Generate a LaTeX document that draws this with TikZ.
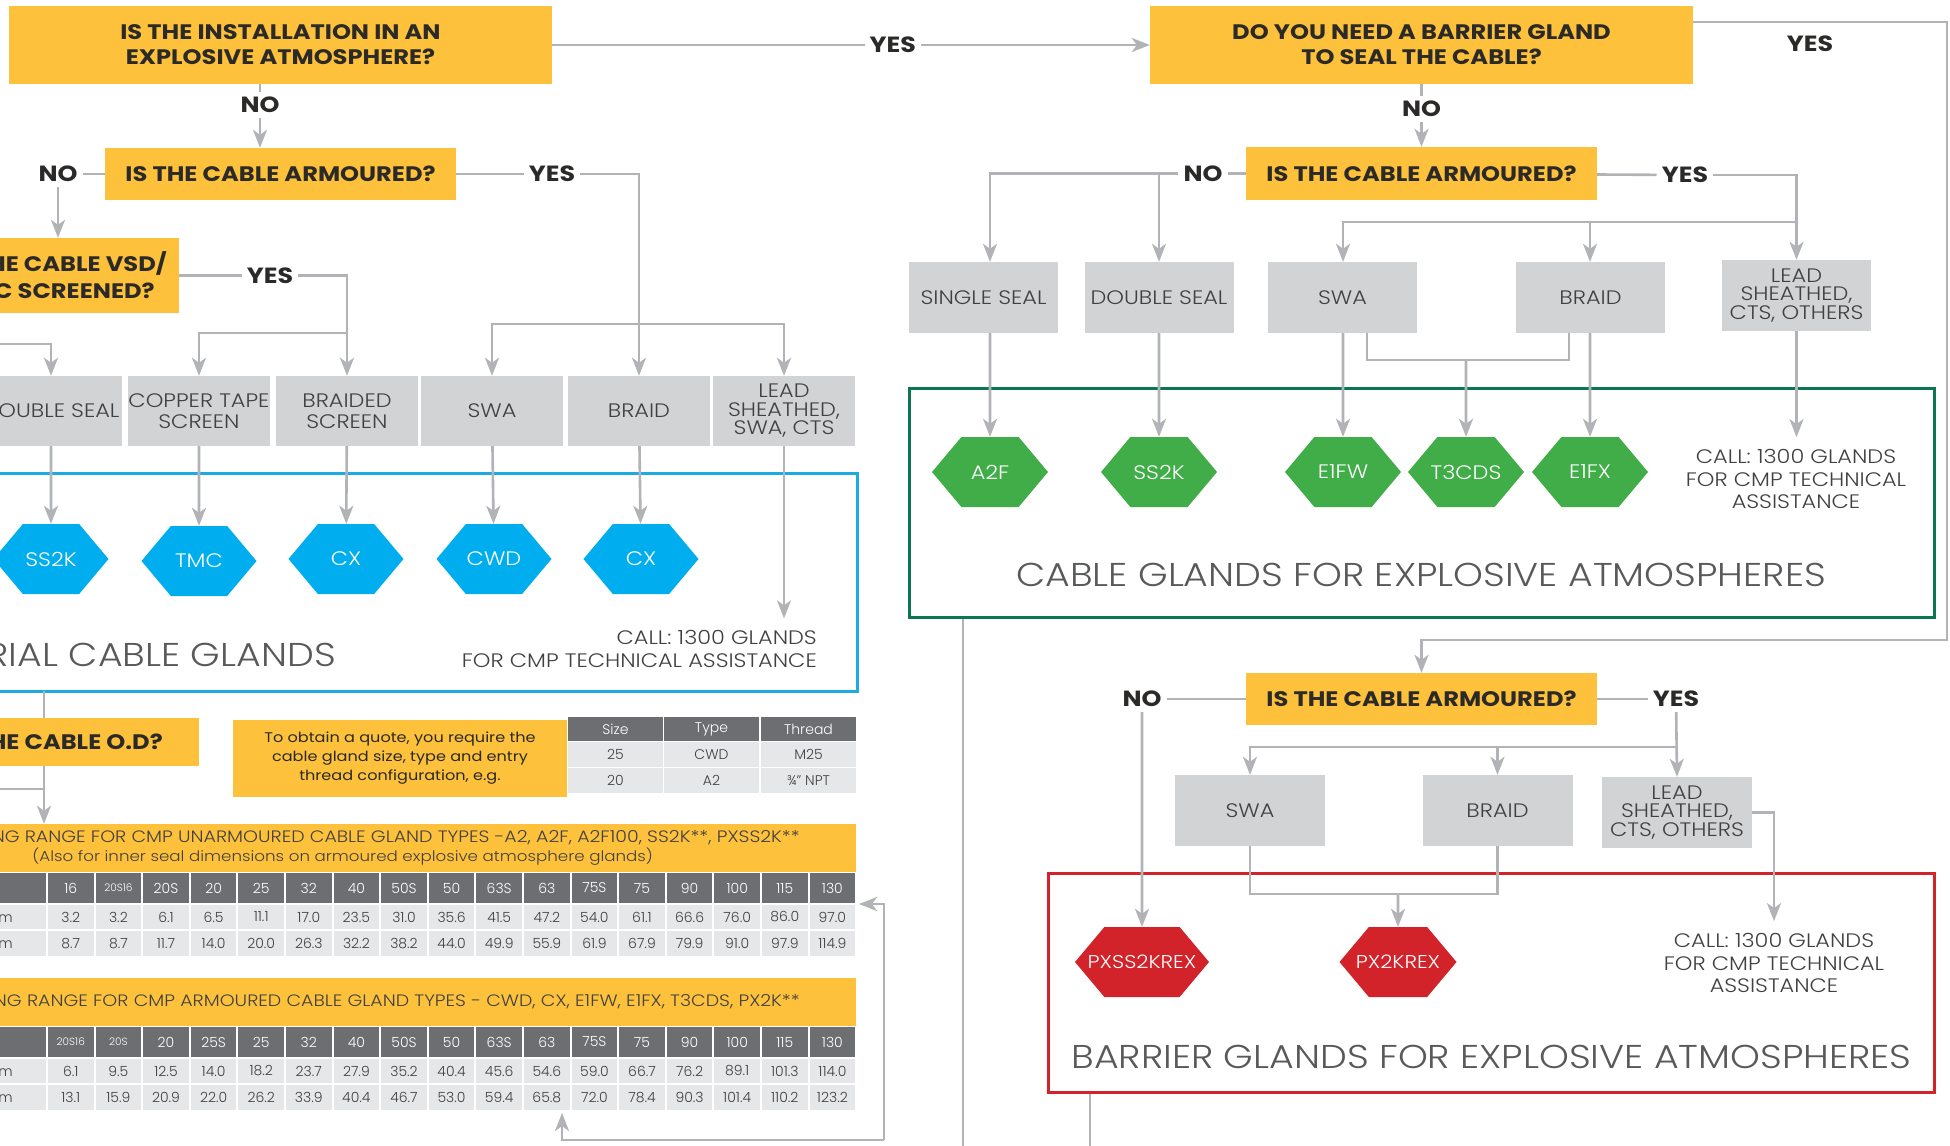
\documentclass[tikz,border=0pt]{standalone}
\usepackage{fontspec}
\setmainfont{Poppins}[FakeStretch=1.15]
\newfontfamily\lightfont{Poppins Light}[FakeStretch=1.15]
\newfontfamily\lightplain{Poppins Light}
\usetikzlibrary{arrows.meta, shapes.symbols}

\definecolor{cmpyellow}{HTML}{FDC13B}
\definecolor{boxgrey}{HTML}{D1D3D4}
\definecolor{linegrey}{HTML}{B1B3B6}
\definecolor{textdark}{HTML}{2B2A29}
\definecolor{textgrey}{HTML}{414042}
\definecolor{titlegrey}{HTML}{58595B}
\definecolor{hexblue}{HTML}{00AEEF}
\definecolor{hexgreen}{HTML}{40AD48}
\definecolor{hexred}{HTML}{D2232A}
\definecolor{frameblue}{HTML}{1DAAE2}
\definecolor{framegreen}{HTML}{0C7651}
\definecolor{headgrey}{HTML}{6D6E71}
\definecolor{cellgrey}{HTML}{E6E7E8}

\newcommand\tinysize[1]{{\fontsize{10.5}{10.5}\selectfont #1}}

\tikzset{
  question/.style={fill=cmpyellow, text=textdark, align=center, inner sep=0pt,
    font=\fontsize{21}{25}\selectfont\bfseries},
  answer/.style={fill=white, text=textdark, inner sep=5pt,
    font=\fontsize{22}{22}\selectfont\bfseries},
  option/.style={fill=boxgrey, text=textgrey, align=center, inner sep=0pt,
    minimum width=142pt, minimum height=70pt,
    font=\lightfont\fontsize{19.5}{21.5}\selectfont},
  gland/.style={shape=signal, signal to=east and west, signal pointer angle=100,
    fill=#1, text=white, inner xsep=-20pt, inner ysep=0pt, minimum width=116pt, minimum height=70pt,
    font=\lightfont\fontsize{19.5}{19.5}\selectfont},
  glandframe/.style={draw=#1, line width=3pt, inner sep=0pt},
  calltext/.style={text=textgrey, align=center, inner ysep=12pt, inner xsep=0pt,
    font=\lightfont\fontsize{19.5}{22.5}\selectfont},
  heading/.style={text=titlegrey, inner sep=0pt,
    font=\lightfont\fontsize{33}{33}\selectfont},
  link/.style={draw=linegrey, line width=2.6pt},
  flow/.style={link, -{Stealth[length=18pt, width=14pt, inset=5pt]}},
  headcell/.style={fill=headgrey, text=white, inner sep=0pt, minimum width=45.6pt,
    minimum height=30pt, font=\lightplain\fontsize{14}{14}\selectfont},
  cell/.style={fill=cellgrey, text=textgrey, inner sep=0pt, minimum width=45.6pt,
    minimum height=24pt, font=\lightplain\fontsize{14}{14}\selectfont},
  band/.style={fill=cmpyellow, text=textgrey, align=center, inner ysep=0pt,
    minimum height=48pt, font=\lightfont\fontsize{16.5}{19}\selectfont},
}

\begin{document}
\begin{tikzpicture}[x=1pt, y=-1pt]
  \useasboundingbox (0,0) rectangle (1950,1145);
  \clip (0,0) rectangle (1950,1145);
  \fill[white] (0,0) rectangle (1950,1145);

  % questions
  \node[question, minimum width=543pt, minimum height=78pt] (install) at (280.5,45) {IS THE INSTALLATION IN AN\\EXPLOSIVE ATMOSPHERE?};
  \node[question, minimum width=543pt, minimum height=78pt] (barrier) at (1421.5,45) {DO YOU NEED A BARRIER GLAND\\TO SEAL THE CABLE?};
  \node[question, minimum width=351pt, minimum height=52pt] (armouredI) at (280.5,174) {IS THE CABLE ARMOURED?};
  \node[question, minimum width=351pt, minimum height=53pt] (armouredX) at (1421.5,173.5) {IS THE CABLE ARMOURED?};
  \node[question, minimum width=351pt, minimum height=52pt] (armouredB) at (1421.5,699) {IS THE CABLE ARMOURED?};
  \node[question, anchor=east, inner xsep=12pt, minimum height=75pt, font=\fontsize{21}{27}\selectfont\bfseries] (vsd) at (179,275.5) {IS THE CABLE VSD/\\EMC SCREENED?};
  \node[question, anchor=east, inner xsep=36pt, minimum height=48pt] (od) at (199,742) {WHAT IS THE CABLE O.D?};

  % industrial cable options
  \node[option] (dbl1) at (51,411) {DOUBLE SEAL};
  \node[option] (copper) at (199,411) {COPPER TAPE\\SCREEN};
  \node[option] (braided) at (347,411) {BRAIDED\\SCREEN};
  \node[option] (swa1) at (492,411) {SWA};
  \node[option] (braid1) at (639,411) {BRAID};
  \node[option] (lead1) at (784,411) {LEAD\\[-3pt]SHEATHED,\\[-3pt]SWA, CTS};

  % explosive atmosphere options
  \node[option, minimum width=149pt, minimum height=71pt] (single) at (983.5,297.5) {SINGLE SEAL};
  \node[option, minimum width=149pt, minimum height=71pt] (double) at (1159,297.5) {DOUBLE SEAL};
  \node[option, minimum width=149pt, minimum height=71pt] (swa) at (1342.5,297.5) {SWA};
  \node[option, minimum width=149pt, minimum height=71pt] (braid) at (1590.5,297.5) {BRAID};
  \node[option, minimum width=149pt, minimum height=71pt] (lead) at (1796.5,295.5) {LEAD\\[-3pt]SHEATHED,\\[-3pt]CTS, OTHERS};

  % barrier options
  \node[option, minimum width=150pt, minimum height=71pt] (swa2) at (1250,810.5) {SWA};
  \node[option, minimum width=150pt, minimum height=71pt] (braid2) at (1497.5,810.5) {BRAID};
  \node[option, minimum width=150pt, minimum height=71pt] (lead2) at (1677,812.5) {LEAD\\[-3pt]SHEATHED,\\[-3pt]CTS, OTHERS};

  % frames
  \node[glandframe=frameblue, minimum width=867pt, minimum height=218pt] (industrial) at (423.5,582) {};
  \node[glandframe=framegreen, minimum width=1025pt, minimum height=229pt] (explosive) at (1421.5,502.5) {};
  \node[glandframe=hexred, minimum width=886pt, minimum height=219pt] (barriers) at (1491,982.5) {};

  % glands
  \node[gland=hexblue, minimum width=115pt] (ss2kI) at (51,559) {SS2K};
  \node[gland=hexblue, minimum width=115pt] (tmcI) at (199,561) {TMC};
  \node[gland=hexblue, minimum width=115pt] (cxI) at (346,559) {CX};
  \node[gland=hexblue, minimum width=115pt] (cwdI) at (494,559) {CWD};
  \node[gland=hexblue, minimum width=115pt] (cxI2) at (641,559) {CX};
  \node[gland=hexgreen] (a2f) at (990,472) {A2F};
  \node[gland=hexgreen] (ss2kX) at (1159,472) {SS2K};
  \node[gland=hexgreen] (e1fw) at (1343,472) {E1FW};
  \node[gland=hexgreen] (t3cds) at (1466,472) {T3CDS};
  \node[gland=hexgreen] (e1fx) at (1590,472) {E1FX};
  \node[gland=hexred, minimum width=134pt, font=\lightfont\fontsize{18.5}{18.5}\selectfont] (pxss2krex) at (1142,962) {PXSS2KREX};
  \node[gland=hexred, minimum width=117pt, font=\lightfont\fontsize{18.5}{18.5}\selectfont] (px2krex) at (1398,962) {PX2KREX};

  % headings and calls
  \node[heading, anchor=east] (titleI) at (336,655) {INDUSTRIAL CABLE GLANDS};
  \node[heading] (titleX) at (1421,575) {CABLE GLANDS FOR EXPLOSIVE ATMOSPHERES};
  \node[heading] (titleB) at (1491.5,1057) {BARRIER GLANDS FOR EXPLOSIVE ATMOSPHERES};
  \node[calltext, align=right, anchor=east] (callI) at (817,649) {CALL: 1300 GLANDS\\FOR CMP TECHNICAL ASSISTANCE};
  \node[calltext] (callX) at (1796,479) {CALL: 1300 GLANDS\\FOR CMP TECHNICAL\\ASSISTANCE};
  \node[calltext] (callY) at (1774,963) {CALL: 1300 GLANDS\\FOR CMP TECHNICAL\\ASSISTANCE};

  % quote example
  \node[fill=cmpyellow, text=textdark, align=center, inner sep=0pt, minimum width=334pt, minimum height=77pt,
    font=\fontsize{14}{19}\selectfont] (quote) at (400,758) {To obtain a quote, you require the\\cable gland size, type and entry\\thread configuration, e.g.};
  \node[headcell, minimum width=95pt, minimum height=24pt] (qs-h1) at (615.5,729) {Size};
  \node[headcell, minimum width=95pt, minimum height=24pt] (qs-h2) at (711.5,729) {Type};
  \node[headcell, minimum width=95pt, minimum height=24pt] (qs-h3) at (808.5,729) {Thread};
  \node[cell, minimum width=95pt, minimum height=25pt] (qs-a1) at (615.5,754.5) {25};
  \node[cell, minimum width=95pt, minimum height=25pt] (qs-a2) at (711.5,754.5) {CWD};
  \node[cell, minimum width=95pt, minimum height=25pt] (qs-a3) at (808.5,754.5) {M25};
  \node[cell, minimum width=95pt, minimum height=25pt] (qs-b1) at (615.5,780.5) {20};
  \node[cell, minimum width=95pt, minimum height=25pt] (qs-b2) at (711.5,780.5) {A2};
  \node[cell, minimum width=95pt, minimum height=25pt] (qs-b3) at (808.5,780.5) {¾” NPT};

  % sealing range tables
  \node[band, anchor=east, inner xsep=56pt] (tab1) at (856,848) {CABLE SEALING RANGE FOR CMP UNARMOURED CABLE GLAND TYPES -A2, A2F, A2F100, SS2K**, PXSS2K**\\{\fontsize{14.5}{19}\selectfont(Also for inner seal dimensions on armoured explosive atmosphere glands)}};
  \node[headcell, anchor=east, minimum width=100pt] (ta-h0) at (46,888) {};
  \node[cell, anchor=east, inner xsep=33pt] (ta-a0) at (46,917) {Minimum};
  \node[cell, anchor=east, inner xsep=33pt, minimum height=25pt] (ta-b0) at (46,943.5) {Maximum};
  \foreach \s [count=\i] in {16,\tinysize{20S16},20S,20,25,32,40,50S,50,63S,63,75S,75,90,100,115,130}
    \node[headcell] (ta-h\i) at ({23.2+47.6*\i},888) {\s};
  \foreach \s [count=\i] in {3.2,3.2,6.1,6.5,11.1,17.0,23.5,31.0,35.6,41.5,47.2,54.0,61.1,66.6,76.0,86.0,97.0}
    \node[cell] (ta-a\i) at ({23.2+47.6*\i},917) {\s};
  \foreach \s [count=\i] in {8.7,8.7,11.7,14.0,20.0,26.3,32.2,38.2,44.0,49.9,55.9,61.9,67.9,79.9,91.0,97.9,114.9}
    \node[cell, minimum height=25pt] (ta-b\i) at ({23.2+47.6*\i},943.5) {\s};

  \node[band, anchor=east, inner xsep=56pt] (tab2) at (856,1002) {CABLE SEALING RANGE FOR CMP ARMOURED CABLE GLAND TYPES - CWD, CX, E1FW, E1FX, T3CDS, PX2K**};
  \node[headcell, anchor=east, minimum width=100pt] (tb-h0) at (46,1042) {};
  \node[cell, anchor=east, inner xsep=33pt] (tb-a0) at (46,1071) {Minimum};
  \node[cell, anchor=east, inner xsep=33pt, minimum height=25pt] (tb-b0) at (46,1097.5) {Maximum};
  \foreach \s [count=\i] in {\tinysize{20S16},\tinysize{20S},20,25S,25,32,40,50S,50,63S,63,75S,75,90,100,115,130}
    \node[headcell] (tb-h\i) at ({23.2+47.6*\i},1042) {\s};
  \foreach \s [count=\i] in {6.1,9.5,12.5,14.0,18.2,23.7,27.9,35.2,40.4,45.6,54.6,59.0,66.7,76.2,89.1,101.3,114.0}
    \node[cell] (tb-a\i) at ({23.2+47.6*\i},1071) {\s};
  \foreach \s [count=\i] in {13.1,15.9,20.9,22.0,26.2,33.9,40.4,46.7,53.0,59.4,65.8,72.0,78.4,90.3,101.4,110.2,123.2}
    \node[cell, minimum height=25pt] (tb-b\i) at ({23.2+47.6*\i},1097.5) {\s};

  % bend points
  \coordinate (offL) at (-30,344);
  \coordinate (forkV) at (347,333);
  \coordinate (forkI) at (639,324);
  \coordinate (forkX) at (1796,222);
  \coordinate (joinX) at (1466,360);
  \coordinate (edgeR1) at (1947,22);
  \coordinate (edgeR2) at (1947,640);
  \coordinate (forkY) at (1677,747);
  \coordinate (joinY) at (1398,894);
  \coordinate (odTop) at (44,691);
  \coordinate (offL2) at (-30,789);
  \coordinate (retA) at (884,904);
  \coordinate (retB) at (884,1140);
  \coordinate (retTip) at (859,904);
  \coordinate (retUp) at (562,1113);

  % answers
  \node[answer] (noI) at (58,174) {NO};
  \node[answer] (yesI) at (552,174) {YES};
  \node[answer] (yesV) at (270,275.5) {YES};
  \node[answer] (noX) at (1203,173.5) {NO};
  \node[answer] (yesX) at (1685,175) {YES};
  \node[answer] (yesR) at (1810,44) {YES};
  \node[answer] (noY) at (1142,699) {NO};
  \node[answer] (yesY) at (1676,699) {YES};

  % flow from the first question
  \draw[flow] (install) -- node[answer, pos=0.57] (yesA) {YES} (barrier);
  \draw[flow] ([xshift=-20.5pt]install.south) -- node[answer, pos=0.33] (noA) {NO} ([xshift=-20.5pt]armouredI.north);

  % industrial branch
  \draw[link] (armouredI) -- (noI);
  \draw[flow] (noI) -- (noI |- vsd.north);
  \draw[link] (armouredI) -- (yesI);
  \draw[flow] (yesI) -| (braid1.north);
  \draw[flow] (forkI) -| (swa1.north);
  \draw[flow] (forkI) -| (lead1.north);
  \draw[link] (vsd) -- (yesV);
  \draw[flow] (yesV) -| (braided.north);
  \draw[flow] (forkV) -| (copper.north);
  \draw[flow] (offL) -| (dbl1.north);
  \draw[flow] (dbl1) -- (ss2kI);
  \draw[flow] (copper) -- (tmcI);
  \draw[flow] (braided) -- (cxI);
  \draw[flow] (swa1) -- (cwdI);
  \draw[flow] (braid1) -- (cxI2);
  \draw[flow] (lead1) -- (lead1 |- callI.north);
  \draw[link] (odTop) -- (odTop |- od.north);
  \draw[flow] (odTop |- od.south) -- (odTop |- tab1.north);
  \draw[link] (offL2) -- (offL2 -| odTop);

  % explosive branch
  \draw[flow] (barrier) -- node[answer, pos=0.4] (noB) {NO} (armouredX);
  \draw[link] (armouredX) -- (noX);
  \draw[flow] (noX) -| (a2f |- single.north);
  \draw[flow] (ss2kX |- noX) -- (ss2kX |- double.north);
  \draw[link] (armouredX) -- (yesX);
  \draw[flow] (yesX) -| (lead.north);
  \draw[flow] (forkX) -| (e1fw |- swa.north);
  \draw[flow] (e1fx |- forkX) -- (e1fx |- braid.north);
  \draw[flow] (a2f |- single.south) -- (a2f);
  \draw[flow] (ss2kX |- double.south) -- (ss2kX);
  \draw[flow] (e1fw |- swa.south) -- (e1fw);
  \draw[flow] (e1fx |- braid.south) -- (e1fx);
  \draw[link] ([xshift=24.5pt]swa.south) |- (joinX) -| ([xshift=-21.5pt]braid.south);
  \draw[flow] (joinX) -- (t3cds);
  \draw[flow] (lead) -- (lead |- callX.north);
  \draw[link] ([xshift=-458.5pt]explosive.south) -- ++(0,540);

  % barrier branch
  \draw[flow] (barrier.east |- edgeR1) -- (edgeR1) -- (edgeR2) -| (armouredB.north);
  \draw[link] (armouredB) -- (noY);
  \draw[flow] (noY) -- (pxss2krex);
  \draw[link] (armouredB) -- (yesY);
  \draw[flow] (yesY) -- (lead2.north);
  \draw[flow] (forkY) -| (swa2.north);
  \draw[flow] (braid2.north |- forkY) -- (braid2.north);
  \draw[link] (swa2.south) |- (joinY) -| (braid2.south);
  \draw[flow] (joinY) -- (px2krex);
  \draw[flow] (lead2.east) -| (callY.north);
  \draw[link] ([xshift=-401pt]barriers.south) -- ++(0,100);

  % return to the tables
  \draw[flow] (retB) -- (retA) -- (retTip);
  \draw[flow] (retB) -| (retUp);
\end{tikzpicture}
\end{document}
